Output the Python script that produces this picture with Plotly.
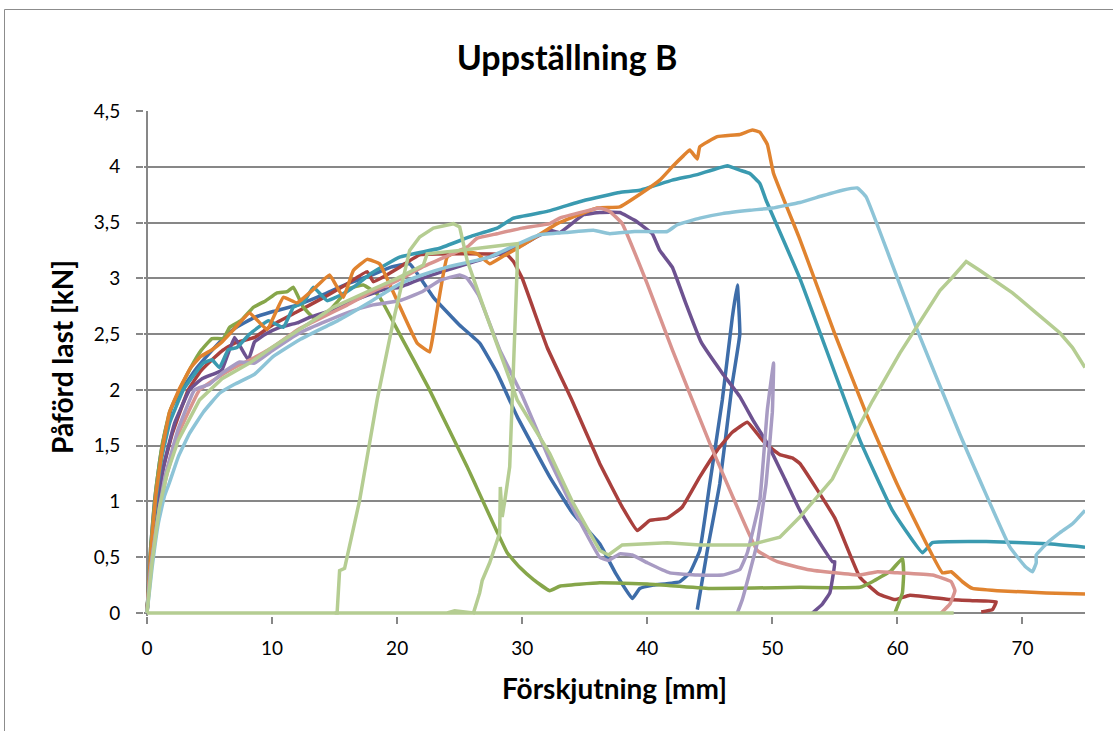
import plotly.graph_objects as go

# ---------------- data ----------------
blue_x = [0, 0.3, 0.6, 1, 1.5, 2, 2.8, 4, 5, 6, 7, 8.6, 10, 12, 14, 16, 18, 19.5, 21, 22.9, 25, 26.6, 28, 29.6, 32.2, 34, 36.2, 37.5, 38.8, 39.4, 40.5, 42.6, 43.4, 44.2, 45, 46, 46.8, 47.2, 47.4, 46.8, 45.8, 44.8, 44.0]
blue_y = [0, 0.6, 1.0, 1.35, 1.65, 1.85, 2.0, 2.2, 2.33, 2.45, 2.55, 2.65, 2.7, 2.76, 2.85, 2.95, 3.03, 3.1, 3.13, 2.83, 2.58, 2.42, 2.15, 1.76, 1.22, 0.9, 0.62, 0.35, 0.13, 0.22, 0.25, 0.28, 0.36, 0.56, 1.16, 1.91, 2.65, 2.94, 2.5, 2.06, 1.16, 0.56, 0.03]

red_x = [0, 0.3, 0.8, 1.3, 2, 3.3, 4.3, 5.2, 6, 7, 8.6, 10, 12, 14, 16, 17.6, 18.1, 19, 20.2, 21.8, 25, 28.8, 29.3, 30, 32, 34, 36.2, 38, 39.2, 40.2, 41.6, 42.8, 44.2, 45.6, 46.8, 48, 49.2, 50.1, 50.6, 51.6, 52.2, 55, 57, 58.5, 59.8, 61, 64.2, 66, 67.9, 67.6, 66.7]
red_y = [0, 0.5, 0.95, 1.3, 1.6, 2.0, 2.17, 2.27, 2.35, 2.42, 2.47, 2.58, 2.7, 2.82, 2.95, 3.06, 2.97, 3.02, 3.1, 3.21, 3.22, 3.21, 3.15, 3.0, 2.38, 1.9, 1.34, 0.95, 0.74, 0.83, 0.85, 0.95, 1.22, 1.46, 1.62, 1.71, 1.55, 1.46, 1.42, 1.39, 1.34, 0.85, 0.32, 0.17, 0.12, 0.16, 0.12, 0.11, 0.1, 0.03, 0.01]

green_x = [0, 0.3, 0.7, 1.2, 1.8, 2.6, 3.5, 4.3, 5.2, 6.1, 6.6, 7.5, 8.5, 9.5, 10.4, 11.2, 11.7, 12.5, 13.3, 14.4, 15.3, 16.2, 17.3, 18.5, 20.2, 22.5, 25.6, 28.8, 29.8, 30.9, 32.2, 33, 36.2, 40, 45, 52.2, 57, 58, 59.5, 60.4, 60.5, 60.4, 59.8]
green_y = [0, 0.6, 1.1, 1.5, 1.8, 2.0, 2.2, 2.35, 2.46, 2.46, 2.56, 2.62, 2.74, 2.8, 2.87, 2.88, 2.92, 2.74, 2.65, 2.69, 2.8, 2.91, 2.94, 2.85, 2.5, 2.02, 1.31, 0.54, 0.41, 0.3, 0.2, 0.24, 0.27, 0.26, 0.22, 0.23, 0.23, 0.28, 0.38, 0.49, 0.35, 0.18, 0]

purple_x = [0, 0.3, 0.8, 1.4, 2.2, 3.4, 4.4, 5.5, 6, 7, 8.1, 8.6, 9.5, 10.6, 12, 13, 14.9, 16.5, 18.9, 20.2, 22.5, 25.6, 28.2, 30, 32.2, 33, 34.9, 36.2, 37.8, 39, 40.4, 41, 42, 43, 44.3, 46, 47.4, 48.5, 49.6, 51, 52.2, 53.5, 54.8, 55, 54.8, 54.6, 54, 53.2]
purple_y = [0, 0.5, 0.95, 1.35, 1.7, 2.0, 2.1, 2.15, 2.18, 2.47, 2.27, 2.43, 2.5, 2.56, 2.6, 2.65, 2.72, 2.8, 2.9, 2.92, 3.02, 3.13, 3.22, 3.3, 3.43, 3.41, 3.57, 3.59, 3.59, 3.52, 3.4, 3.25, 3.1, 2.8, 2.43, 2.15, 1.94, 1.72, 1.52, 1.2, 0.92, 0.68, 0.46, 0.46, 0.3, 0.18, 0.08, 0]

teal_x = [0, 0.3, 0.7, 1.2, 1.8, 2.9, 4, 4.5, 5.2, 5.8, 6.5, 7.2, 8.2, 9.7, 10.9, 11.7, 12.5, 13.3, 14.4, 15.5, 16.5, 18, 20.2, 23.4, 26, 28, 29.3, 32, 35, 37.8, 39.4, 42, 44, 46.4, 47.4, 48.2, 49, 49.5, 52.2, 57, 59.6, 62, 62.8, 67.1, 72, 75]
teal_y = [0, 0.55, 1.0, 1.4, 1.7, 2.0, 2.17, 2.24, 2.27, 2.2, 2.36, 2.38, 2.5, 2.62, 2.56, 2.74, 2.78, 2.92, 2.8, 2.85, 2.92, 3.05, 3.19, 3.27, 3.38, 3.45, 3.54, 3.6, 3.7, 3.77, 3.79, 3.88, 3.93, 4.01, 3.97, 3.94, 3.85, 3.7, 3.0, 1.55, 0.92, 0.54, 0.63, 0.64, 0.62, 0.59]

orange_x = [0, 0.3, 0.7, 1.2, 1.8, 2.55, 3.5, 4.3, 5.2, 6, 7, 8.2, 9.6, 10.9, 12, 13.3, 14.6, 15.7, 16.5, 17.6, 18.6, 20, 21.6, 22.6, 22.9, 24, 25, 26.4, 27.4, 28.5, 29.8, 32.8, 36, 37.8, 39.5, 41, 42, 42.9, 43.4, 44, 44.2, 45.6, 47.4, 48.4, 49, 49.6, 50.1, 52.2, 55, 57.5, 60, 63.6, 64.3, 65.2, 66, 68, 71.9, 75]
orange_y = [0, 0.55, 1.05, 1.45, 1.8, 2.0, 2.2, 2.3, 2.36, 2.43, 2.55, 2.69, 2.54, 2.83, 2.78, 2.9, 3.03, 2.83, 3.07, 3.17, 3.13, 2.8, 2.42, 2.34, 2.51, 3.19, 3.25, 3.22, 3.13, 3.2, 3.28, 3.49, 3.63, 3.64, 3.76, 3.88, 4.0, 4.1, 4.15, 4.07, 4.18, 4.27, 4.29, 4.33, 4.31, 4.2, 3.94, 3.35, 2.5, 1.79, 1.15, 0.36, 0.37, 0.28, 0.22, 0.2, 0.18, 0.17]

pink_x = [0, 0.3, 0.8, 1.5, 2.5, 4.2, 5.5, 7, 8.6, 10, 12.2, 14, 16, 18, 20, 22, 24, 25.6, 26.4, 28, 30, 32.2, 33, 35, 36.2, 37, 38, 40, 42, 45, 47, 48.8, 50.4, 52.8, 55, 57, 58.4, 60, 62.8, 64.3, 64.6, 64.2, 63.5]
pink_y = [0, 0.4, 0.8, 1.2, 1.6, 2.0, 2.1, 2.2, 2.29, 2.38, 2.55, 2.65, 2.76, 2.88, 2.98, 3.1, 3.2, 3.28, 3.36, 3.4, 3.45, 3.49, 3.54, 3.6, 3.63, 3.6, 3.49, 2.95, 2.36, 1.52, 1.0, 0.56, 0.46, 0.39, 0.36, 0.34, 0.37, 0.36, 0.34, 0.28, 0.2, 0.08, 0]

lavender_x = [0, 0.3, 0.8, 1.5, 2.5, 3.8, 5, 6, 7.4, 8.6, 10, 12.2, 14, 16.2, 18, 20.2, 22, 23.4, 25, 25.6, 26.5, 28.2, 30, 32.2, 34, 36.2, 36.9, 37.8, 38.8, 40, 41.8, 44, 46, 47.4, 48, 49, 49.6, 50.1, 50, 49.5, 48.8, 47.6, 47.2]
lavender_y = [0, 0.4, 0.8, 1.25, 1.65, 2.0, 2.05, 2.15, 2.25, 2.24, 2.35, 2.51, 2.6, 2.7, 2.76, 2.8, 2.88, 2.98, 3.03, 3.0, 2.85, 2.36, 1.95, 1.37, 0.95, 0.5, 0.47, 0.53, 0.52, 0.45, 0.36, 0.34, 0.34, 0.39, 0.54, 1.01, 1.82, 2.24, 1.8, 1.16, 0.63, 0.12, 0]

lightblue_x = [0, 0.4, 0.9, 1.4, 1.8, 2.5, 3.4, 4.5, 5.8, 7, 8.6, 10.1, 12.2, 15.4, 18, 20.2, 22, 24, 27.4, 29.5, 31.4, 33.5, 35.7, 37, 39, 41.6, 42.4, 44.2, 46, 48.2, 50, 52.2, 54, 55.6, 56.8, 57.5, 59.5, 61.5, 65, 69, 70.2, 70.8, 71.1, 71.1, 72, 73, 74, 75]
lightblue_y = [0, 0.4, 0.8, 1.05, 1.17, 1.4, 1.61, 1.8, 1.97, 2.05, 2.14, 2.3, 2.45, 2.63, 2.8, 2.95, 3.03, 3.1, 3.19, 3.3, 3.39, 3.41, 3.43, 3.4, 3.42, 3.42, 3.48, 3.54, 3.58, 3.61, 3.63, 3.68, 3.74, 3.79, 3.81, 3.73, 3.15, 2.56, 1.6, 0.59, 0.42, 0.37, 0.45, 0.52, 0.63, 0.72, 0.8, 0.92]

lgreen_a_x = [0, 0.4, 1, 1.6, 2.5, 4.2, 6, 8.2, 10, 12.2, 14.9, 17.6, 20, 22.1, 22.4, 25, 27, 28.8, 29.6, 29.6, 29.3, 29, 28.6, 28.4, 28.25, 28.2, 28, 27.4, 26.8, 26.6, 26.1, 24.6, 24.0, 15.0, 40.0, 64.5]
lgreen_a_y = [0, 0.45, 0.95, 1.25, 1.55, 1.91, 2.1, 2.24, 2.38, 2.54, 2.74, 2.88, 3.0, 3.12, 3.22, 3.25, 3.28, 3.3, 3.31, 3.1, 2.2, 1.31, 1.0, 0.86, 1.13, 0.72, 0.65, 0.45, 0.29, 0.18, 0, 0.02, 0, 0, 0, 0]

lgreen_b_x = [0, 15.2, 15.4, 15.8, 17, 18.4, 19.7, 20.5, 21, 21.8, 22.9, 24.5, 25, 25.6, 27.2, 29.6, 32.2, 34, 36.2, 36.9, 38, 41.6, 44.2, 48.2, 50.6, 52.2, 54.8, 56.2, 58, 60.2, 62, 63.4, 64.4, 65.5, 66.6, 69.2, 71, 73, 74, 75]
lgreen_b_y = [0, 0, 0.38, 0.4, 1.01, 1.91, 2.62, 3.01, 3.25, 3.37, 3.45, 3.49, 3.46, 3.16, 2.65, 1.91, 1.43, 1.0, 0.56, 0.52, 0.61, 0.63, 0.61, 0.61, 0.68, 0.86, 1.2, 1.52, 1.9, 2.33, 2.65, 2.89, 3.01, 3.15, 3.07, 2.87, 2.7, 2.51, 2.38, 2.2]

series = [
    ("B1", blue_x, blue_y, "#3E6DA9", "spline"),
    ("B2", red_x, red_y, "#A9403D", "spline"),
    ("B3", green_x, green_y, "#86A64A", "spline"),
    ("B4", purple_x, purple_y, "#6D5290", "spline"),
    ("B5", teal_x, teal_y, "#3A9AB0", "spline"),
    ("B6", orange_x, orange_y, "#E0832F", "spline"),
    ("B7", pink_x, pink_y, "#D9948F", "spline"),
    ("B8", lavender_x, lavender_y, "#A89BC3", "spline"),
    ("B9", lightblue_x, lightblue_y, "#8DC4D7", "spline"),
    ("B10", lgreen_a_x, lgreen_a_y, "#B5CD92", "linear"),
    ("B11", lgreen_b_x, lgreen_b_y, "#B5CD92", "linear"),
]

x_ticks = [0, 10, 20, 30, 40, 50, 60, 70]
y_ticks = [0, 0.5, 1, 1.5, 2, 2.5, 3, 3.5, 4, 4.5]

FONT = "Lato"
W, H = 1113, 731
# pixel geometry of the plot area (x=0 at 147 px, y=0 at 613 px)
L, R, T, B = 144, 1085, 111, 616
XMIN, XMAX = -0.24, 75
YMIN, YMAX = -0.027, 4.5
GRID = "#878787"

fig = go.Figure()
for name, xs, ys, col, shp in series:
    line = dict(color=col, width=3.5, shape=shp)
    if shp == "spline":
        line["smoothing"] = 0.3
    fig.add_trace(go.Scatter(x=xs, y=ys, mode="lines", name=name, line=line,
                             showlegend=False, hoverinfo="x+y+name"))

def px2x(px):
    return (px - L) / (R - L)

def py2y(py):
    return (B - py) / (B - T)

fig.update_layout(
    width=W, height=H,
    margin=dict(l=L, r=W - R, t=T, b=H - B, pad=0),
    paper_bgcolor="white", plot_bgcolor="white",
    separators=", ",
    font=dict(family=FONT, size=19, color="#000000"),
    title=dict(text="Uppställning B", x=px2x(567), xanchor="center",
               y=1 - 58 / H, yanchor="middle", xref="paper",
               font=dict(family=FONT, size=34, color="#000000", weight="bold")),
    xaxis=dict(range=[XMIN, XMAX], tickvals=x_ticks, showgrid=False,
               zeroline=True, zerolinecolor=GRID, zerolinewidth=1.5,
               showline=False,
               ticks="outside", ticklen=7, tickwidth=1.5, tickcolor=GRID,
               tickfont=dict(family=FONT, size=19, color="#000000"), ticklabelstandoff=8),
    yaxis=dict(range=[YMIN, YMAX], tickvals=y_ticks, showgrid=True, gridcolor=GRID, gridwidth=1.5,
               zeroline=True, zerolinecolor=GRID, zerolinewidth=1.5,
               showline=False,
               ticks="outside", ticklen=7, tickwidth=1.5, tickcolor=GRID,
               tickfont=dict(family=FONT, size=19, color="#000000"), ticklabelstandoff=12),
    annotations=[
        dict(text="Förskjutning [mm]", xref="paper", yref="paper", x=px2x(614), y=py2y(688),
             xanchor="center", yanchor="middle", showarrow=False,
             font=dict(family=FONT, size=28, color="#000000", weight="bold")),
        dict(text="Påförd last [kN]", xref="paper", yref="paper", x=px2x(62), y=py2y(357),
             xanchor="center", yanchor="middle", showarrow=False, textangle=-90,
             font=dict(family=FONT, size=28, color="#000000", weight="bold")),
    ],
    shapes=[
        dict(type="rect", xref="paper", yref="paper",
             x0=px2x(4.5), x1=px2x(1125), y0=py2y(745), y1=py2y(9.5),
             line=dict(color="#8c8c8c", width=1), fillcolor="rgba(0,0,0,0)", layer="below"),
    ],
)

fig.write_html("out.html", config={"displayModeBar": False},
               post_script="document.body.style.margin='0';")
